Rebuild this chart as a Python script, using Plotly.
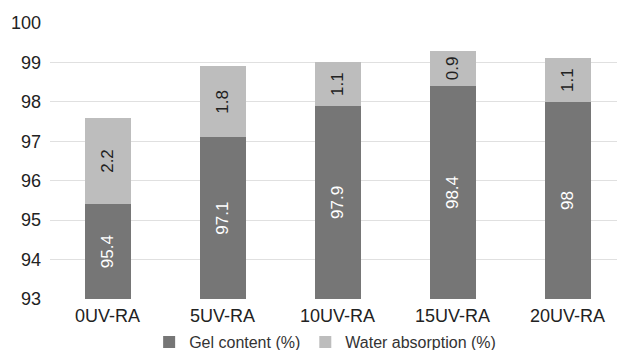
import plotly.graph_objects as go

categories = ["0UV-RA", "5UV-RA", "10UV-RA", "15UV-RA", "20UV-RA"]
gel_content = [95.4, 97.1, 97.9, 98.4, 98.0]
water_absorption = [2.2, 1.8, 1.1, 0.9, 1.1]
gel_labels = ["95.4", "97.1", "97.9", "98.4", "98"]
water_labels = ["2.2", "1.8", "1.1", "0.9", "1.1"]
y_min, y_max = 93, 100

FONT = "Liberation Sans, Arial, sans-serif"

fig = go.Figure()
fig.add_trace(go.Bar(
    x=categories, y=gel_content, name="Gel content (%)",
    marker=dict(color="#767676", line=dict(width=0)),
    textposition="none",
))
fig.add_trace(go.Bar(
    x=categories, y=water_absorption, name="Water absorption (%)",
    marker=dict(color="#bdbdbd", line=dict(width=0)),
    text=water_labels, texttemplate="%{text}", textposition="inside",
    textangle=-90, insidetextanchor="middle",
    textfont=dict(color="#222222", size=17, family=FONT),
))

# labels for the visible part of the gel bars
for c, g, lab in zip(categories, gel_content, gel_labels):
    fig.add_annotation(x=c, y=(y_min + g) / 2, text=lab, showarrow=False,
                       textangle=-90, font=dict(color="white", size=17, family=FONT))

# the page body has an 8px margin, so the figure is drawn 8px in from the corner
fig.update_layout(
    barmode="stack",
    bargap=0.6,
    width=617, height=342,
    margin=dict(l=42, r=0, t=15, b=51, autoexpand=False),
    paper_bgcolor="white", plot_bgcolor="white",
    font=dict(family=FONT, color="#222222", size=18),
    showlegend=True,
    legend=dict(orientation="h", x=0.514, xanchor="center", xref="container",
                y=-0.156, yanchor="middle", yref="paper",
                font=dict(size=16, color="#333333"), traceorder="normal",
                itemwidth=30),
    xaxis=dict(showline=False, ticks="", automargin=False, ticklabelstandoff=4,
               tickfont=dict(size=18, color="#222222")),
    yaxis=dict(range=[y_min, y_max], dtick=1, showgrid=True, gridcolor="#e0e0e0",
               gridwidth=1, zeroline=False, showline=False, ticks="", automargin=False,
               tickfont=dict(size=18, color="#222222"), ticklabelstandoff=8),
)

fig.write_html("out.html")
